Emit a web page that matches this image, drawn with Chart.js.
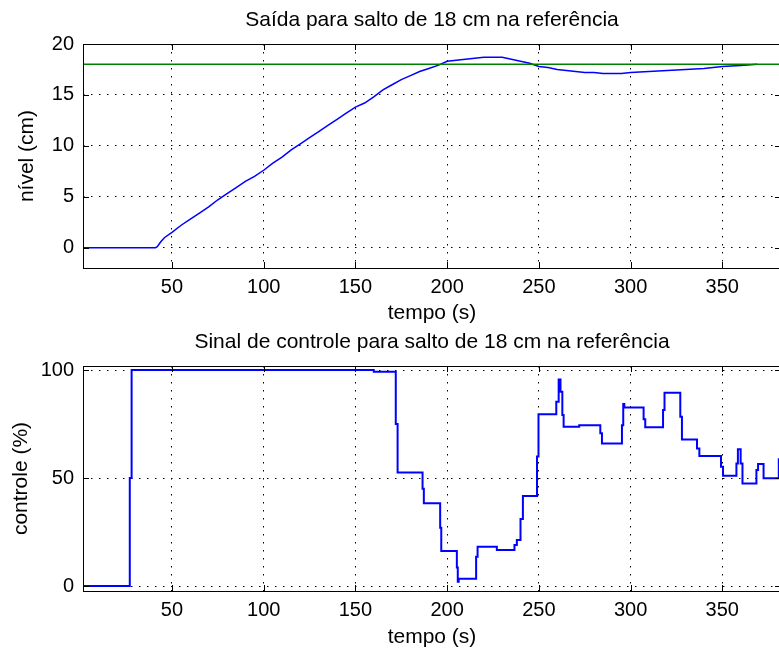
<!DOCTYPE html>
<html>
<head>
<meta charset="utf-8">
<script src="https://cdn.jsdelivr.net/npm/chart.js@4.4.1/dist/chart.umd.min.js"></script>
<style>
  html, body { margin: 0; padding: 0; background: #fff; overflow: hidden; width: 779px; height: 653px; }
  .painel { position: absolute; left: 0; width: 800px; }
</style>
</head>
<body>
<div class="painel" style="top:0;height:330px"><canvas id="grafNivel"></canvas></div>
<div class="painel" style="top:330px;height:323px"><canvas id="grafControle"></canvas></div>
<script>
// saida (nivel)
const tempoNivel = [1, 41, 42, 44, 46, 50, 55, 60, 65, 70, 75, 80, 85, 90, 95, 100, 105, 110, 115, 120,
  125, 130, 135, 140, 145, 150, 155, 160, 165, 170, 175, 180, 185, 190, 195, 200, 205, 210, 215, 220,
  225, 230, 235, 240, 245, 250, 255, 260, 265, 270, 275, 280, 285, 290, 295, 300, 310, 320, 330, 340,
  350, 360, 369];
const nivel = [0, 0, 0.1, 0.6, 1.0, 1.5, 2.2, 2.8, 3.4, 4.0, 4.7, 5.3, 5.9, 6.5, 7.0, 7.6, 8.3, 8.9, 9.6, 10.2,
  10.8, 11.4, 12.0, 12.6, 13.2, 13.8, 14.2, 14.8, 15.5, 16.0, 16.5, 16.9, 17.3, 17.6, 17.9, 18.3, 18.4, 18.5, 18.6, 18.7,
  18.7, 18.7, 18.5, 18.3, 18.1, 17.8, 17.7, 17.5, 17.4, 17.3, 17.2, 17.2, 17.1, 17.1, 17.1, 17.2, 17.3, 17.4, 17.5, 17.6,
  17.8, 17.9, 18.0];

// referencia
const tempoRef = [1, 400];
const referencia = [18, 18];

// sinal de controle (segurador de ordem zero)
const tempoControle = [1, 27, 28, 160, 172, 173, 186.6, 187.3, 196.2, 196.8, 205.3, 205.8, 206.3, 215.8, 216.6,
  227.1, 236.7, 238, 240, 241.3, 249, 249.8, 259.5, 260.8, 261.8, 262.8, 263.5, 272, 283.5, 284.4, 295.3, 296,
  296.6, 307.1, 308, 317.7, 318.5, 327.1, 328, 336.2, 337.5, 349.3, 350.4, 357.7, 358.5, 360, 361, 368.6, 369.5,
  372.5, 380.8, 384];
const controle = [0, 50, 100, 99.2, 75, 52.6, 45, 38.3, 27, 16.2, 8.6, 2.0, 3.4, 13.6, 18.2,
  16.7, 19, 21.3, 31, 41.7, 60, 79.5, 85.3, 95.7, 90, 79.2, 73.8, 74.5, 70.7, 66, 74.5, 84.3,
  82.7, 77.2, 73.5, 81.5, 89.5, 78.4, 67.9, 63.7, 60.2, 55.2, 51.1, 56.8, 63.3, 56.8, 47.5, 53.7, 56.5,
  49.9, 58.7, 58.7];

const xTicks = [50, 100, 150, 200, 250, 300, 350];
const yTicksNivel = [0, 5, 10, 15, 20];
const yTicksControle = [0, 50, 100];

const fonte = "'Liberation Sans', Arial, Helvetica, sans-serif";

// caixa e marcas de escala para dentro, estilo matlab
const caixaMatlab = {
  id: "caixaMatlab",
  afterLayout(chart) {
    // titulo centrado sobre a area do grafico
    if (chart.titleBlock) {
      chart.titleBlock.left = chart.chartArea.left;
      chart.titleBlock.right = chart.chartArea.right;
      chart.titleBlock.width = chart.chartArea.right - chart.chartArea.left;
    }
  },
  afterDatasetsDraw(chart) {
    const { ctx, chartArea: a, scales } = chart;
    const tl = 6;
    ctx.save();
    ctx.strokeStyle = "#000";
    ctx.lineWidth = 1;
    ctx.beginPath();
    scales.x.ticks.forEach((t) => {
      const px = Math.round(scales.x.getPixelForValue(t.value)) + 0.5;
      ctx.moveTo(px, a.bottom); ctx.lineTo(px, a.bottom - tl);
      ctx.moveTo(px, a.top); ctx.lineTo(px, a.top + tl);
    });
    scales.y.ticks.forEach((t) => {
      const py = Math.round(scales.y.getPixelForValue(t.value)) + 0.5;
      ctx.moveTo(a.left, py); ctx.lineTo(a.left + tl, py);
      ctx.moveTo(a.right, py); ctx.lineTo(a.right - tl, py);
    });
    ctx.stroke();
    ctx.strokeRect(Math.round(a.left) + 0.5, Math.round(a.top) + 0.5,
      Math.round(a.right - a.left), Math.round(a.bottom - a.top));
    ctx.restore();
  },
};

function criaGrafico(id, cfg) {
  const alturaX = 62;
  new Chart(document.getElementById(id), {
    type: "line",
    data: { datasets: cfg.datasets },
    options: {
      responsive: true,
      maintainAspectRatio: false,
      animation: false,
      layout: { padding: { left: 0, right: 19, top: 0, bottom: 0 } },
      elements: { point: { radius: 0 }, line: { tension: 0 } },
      plugins: {
        legend: { display: false },
        tooltip: { enabled: false },
        title: {
          display: true,
          text: cfg.titulo,
          color: "#000",
          font: { family: fonte, size: 21, weight: "normal" },
          padding: cfg.padTitulo,
        },
      },
      scales: {
        x: {
          type: "linear",
          min: 1.5,
          max: 382,
          afterBuildTicks: (s) => { s.ticks = xTicks.map((v) => ({ value: v })); },
          afterFit: (s) => { s.height = alturaX; },
          grid: { color: "#000", lineWidth: 1, drawTicks: false },
          border: { display: false, dash: [1.5, 6.5] },
          ticks: { color: "#000", font: { family: fonte, size: 20 }, padding: 7, maxRotation: 0, autoSkip: false },
          title: {
            display: true, text: "tempo (s)", color: "#000",
            font: { family: fonte, size: 21 }, padding: { top: 0, bottom: cfg.padX },
          },
        },
        y: {
          min: cfg.yMin,
          max: cfg.yMax,
          afterBuildTicks: (s) => { s.ticks = cfg.yTicks.map((v) => ({ value: v })); },
          afterFit: (s) => { s.width = 83; },
          grid: { color: "#000", lineWidth: 1, drawTicks: false },
          border: { display: false, dash: [1.5, 6.5] },
          ticks: { color: "#000", font: { family: fonte, size: 20 }, padding: 9 },
          title: {
            display: true, text: cfg.rotuloY, color: "#000",
            font: { family: fonte, size: 21 }, padding: { top: cfg.padY, bottom: 0 },
          },
        },
      },
    },
    plugins: [caixaMatlab],
  });
}

criaGrafico("grafNivel", {
  titulo: "Saída para salto de 18 cm na referência",
  padTitulo: { top: 8, bottom: 10.8 },
  rotuloY: "nível (cm)",
  padY: 15,
  padX: 4,
  yMin: -2,
  yMax: 20,
  yTicks: yTicksNivel,
  datasets: [
    {
      data: tempoRef.map((t, i) => ({ x: t, y: referencia[i] })),
      borderColor: "#008000",
      borderWidth: 1.5,
    },
    {
      data: tempoNivel.map((t, i) => ({ x: t, y: nivel[i] })),
      borderColor: "#0000ff",
      borderWidth: 1.5,
    },
  ],
});

criaGrafico("grafControle", {
  titulo: "Sinal de controle para salto de 18 cm na referência",
  padTitulo: { top: 0, bottom: 10.8 },
  rotuloY: "controle (%)",
  padY: 9,
  padX: 3.5,
  yMin: -2.3,
  yMax: 101.9,
  yTicks: yTicksControle,
  datasets: [
    {
      data: tempoControle.map((t, i) => ({ x: t, y: controle[i] })),
      borderColor: "#0000ff",
      borderWidth: 2,
      stepped: true,
    },
  ],
});
</script>
</body>
</html>
